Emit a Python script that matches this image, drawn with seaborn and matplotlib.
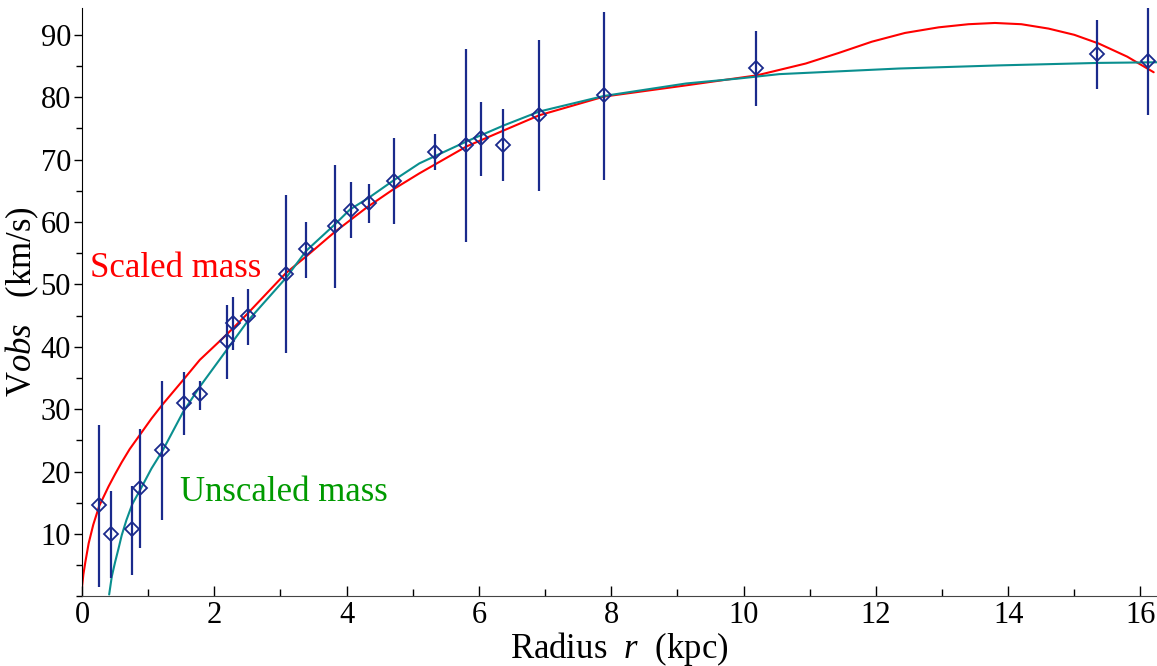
import numpy as np
import pandas as pd
import matplotlib
matplotlib.use("Agg")
import matplotlib.pyplot as plt
from matplotlib.ticker import MultipleLocator
import seaborn as sns

# ---------------------------------------------------------
# data
# ---------------------------------------------------------
r_obs = [0.26, 0.44, 0.76, 0.88, 1.21, 1.54, 1.79, 2.19, 2.28, 2.51, 3.08, 3.39,
         3.82, 4.06, 4.34, 4.72, 5.34, 5.81, 6.03, 6.37, 6.91, 7.89, 10.19, 15.35, 16.12]
v_obs = [14.6, 10.0, 10.8, 17.4, 23.5, 31.0, 32.4, 41.0, 43.8, 44.9, 51.7, 55.7,
         59.4, 62.0, 63.1, 66.6, 71.3, 72.3, 73.5, 72.4, 77.1, 80.4, 84.7, 86.9, 85.8]
v_hi = [27.5, 16.9, 17.7, 26.8, 34.6, 36.0, 34.6, 46.7, 48.0, 49.2, 64.3, 60.0,
        69.1, 66.4, 66.1, 73.4, 74.1, 87.7, 79.3, 78.1, 89.1, 93.7, 90.6, 92.4, 94.4]
v_lo = [1.55, 2.9, 3.5, 7.7, 12.2, 25.9, 29.9, 34.9, 39.5, 40.3, 39.0, 51.1,
        49.5, 57.5, 59.8, 59.7, 68.3, 56.8, 67.4, 66.6, 65.0, 66.7, 78.6, 81.3, 77.1]

# scaled mass curve (red)
r_scaled = [0.0, 0.02, 0.05, 0.1, 0.17, 0.26, 0.4, 0.5, 0.6, 0.72, 0.875, 1.05, 1.22,
            1.53, 1.78, 2.18, 2.5, 3.08, 3.39, 3.82, 4.3, 4.7, 5.1, 5.81, 6.38, 6.91,
            7.89, 9.13, 10.2, 10.94, 11.44, 11.94, 12.44, 12.95, 13.4, 13.8, 14.2,
            14.61, 15.0, 15.37, 15.8, 16.12, 16.2]
v_scaled = [1.5, 3.5, 5.5, 8.5, 11.5, 14.5, 17.6, 19.6, 21.5, 23.6, 25.9, 28.5, 30.8,
            34.7, 37.9, 41.9, 45.3, 51.8, 54.5, 58.4, 62.3, 65.2, 67.8, 72.1, 74.7, 77.1,
            80.1, 81.9, 83.5, 85.4, 87.1, 88.9, 90.3, 91.2, 91.7, 91.9, 91.7,
            91.0, 90.0, 88.6, 86.5, 84.5, 84.0]

# unscaled mass curve (teal)
r_unscaled = [0.41, 0.45, 0.5, 0.55, 0.6, 0.67, 0.76, 0.875, 1.05, 1.22, 1.53, 1.78,
              2.18, 2.51, 3.08, 3.39, 3.82, 4.05, 4.35, 4.7, 5.1, 5.81, 6.38, 6.91,
              7.89, 9.13, 9.93, 10.54, 12.35, 13.86, 15.37, 16.25]
v_unscaled = [0.3, 3.2, 5.5, 7.6, 9.8, 12.2, 14.8, 17.0, 20.5, 23.4, 29.6, 33.6,
              39.4, 44.2, 51.0, 55.4, 59.6, 62.0, 64.0, 66.6, 69.4, 72.9, 75.5, 77.7,
              80.2, 82.2, 83.0, 83.7, 84.6, 85.1, 85.5, 85.6]

curves = pd.concat([
    pd.DataFrame({"r": r_scaled, "v": v_scaled, "model": "Scaled mass"}),
    pd.DataFrame({"r": r_unscaled, "v": v_unscaled, "model": "Unscaled mass"}),
])

# ---------------------------------------------------------
# plot
# ---------------------------------------------------------
sns.set_style("white")
plt.rcParams["font.family"] = ["Liberation Serif", "DejaVu Serif"]
plt.rcParams["mathtext.fontset"] = "custom"
plt.rcParams["mathtext.rm"] = "Liberation Serif"
plt.rcParams["mathtext.it"] = "Liberation Serif:italic"

fig = plt.figure(figsize=(11.57, 6.66), dpi=100)
ax = fig.add_axes([0.0709, 0.1045, 0.9291, 0.8835])

sns.lineplot(data=curves, x="r", y="v", hue="model", sort=False,
             palette={"Scaled mass": "#ff0000", "Unscaled mass": "#0a8f8f"},
             linewidth=1.5, legend=False, ax=ax, estimator=None)

v_obs_arr = np.array(v_obs)
yerr = [v_obs_arr - np.array(v_lo), np.array(v_hi) - v_obs_arr]
ax.errorbar(r_obs, v_obs, yerr=yerr, fmt="D", ms=7.5, mfc="none", mec="#1a2a8c",
            mew=1.3, ecolor="#1a2a8c", elinewidth=1.6, capsize=0, zorder=3)

ax.text(0.12, 52.6, "Scaled mass", color="#ff0000", fontsize=25, va="center", ha="left")
ax.text(1.48, 16.6, "Unscaled mass", color="#009a00", fontsize=25, va="center", ha="left")

ax.set_xlim(0, 16.25)
ax.set_ylim(0, 94.3)
ax.xaxis.set_major_locator(MultipleLocator(2))
ax.xaxis.set_minor_locator(MultipleLocator(1))
ax.set_yticks([10, 20, 30, 40, 50, 60, 70, 80, 90])
ax.yaxis.set_minor_locator(MultipleLocator(5))
ax.tick_params(axis="x", which="major", direction="in", length=7, width=1, labelsize=22,
               pad=3, colors="black")
ax.tick_params(axis="x", which="minor", direction="in", length=5, width=1, colors="black")
ax.tick_params(axis="y", which="major", direction="out", length=6, width=1, labelsize=22,
               pad=2, colors="black")
ax.tick_params(axis="y", which="minor", direction="out", length=4, width=1, colors="black")
ax.tick_params(bottom=True, left=True, which="both")

for side in ["top", "right"]:
    ax.spines[side].set_visible(False)
ax.spines["left"].set_color("black")
ax.spines["bottom"].set_color("#444444")

ax.set_xlabel(r"Radius  $\mathit{r}$  (kpc)", fontsize=25, labelpad=0, color="black")
ax.set_ylabel(r"V$\mathit{obs}$   (km/s)", fontsize=25, labelpad=0, color="black")

fig.savefig("out.png", dpi=100)
